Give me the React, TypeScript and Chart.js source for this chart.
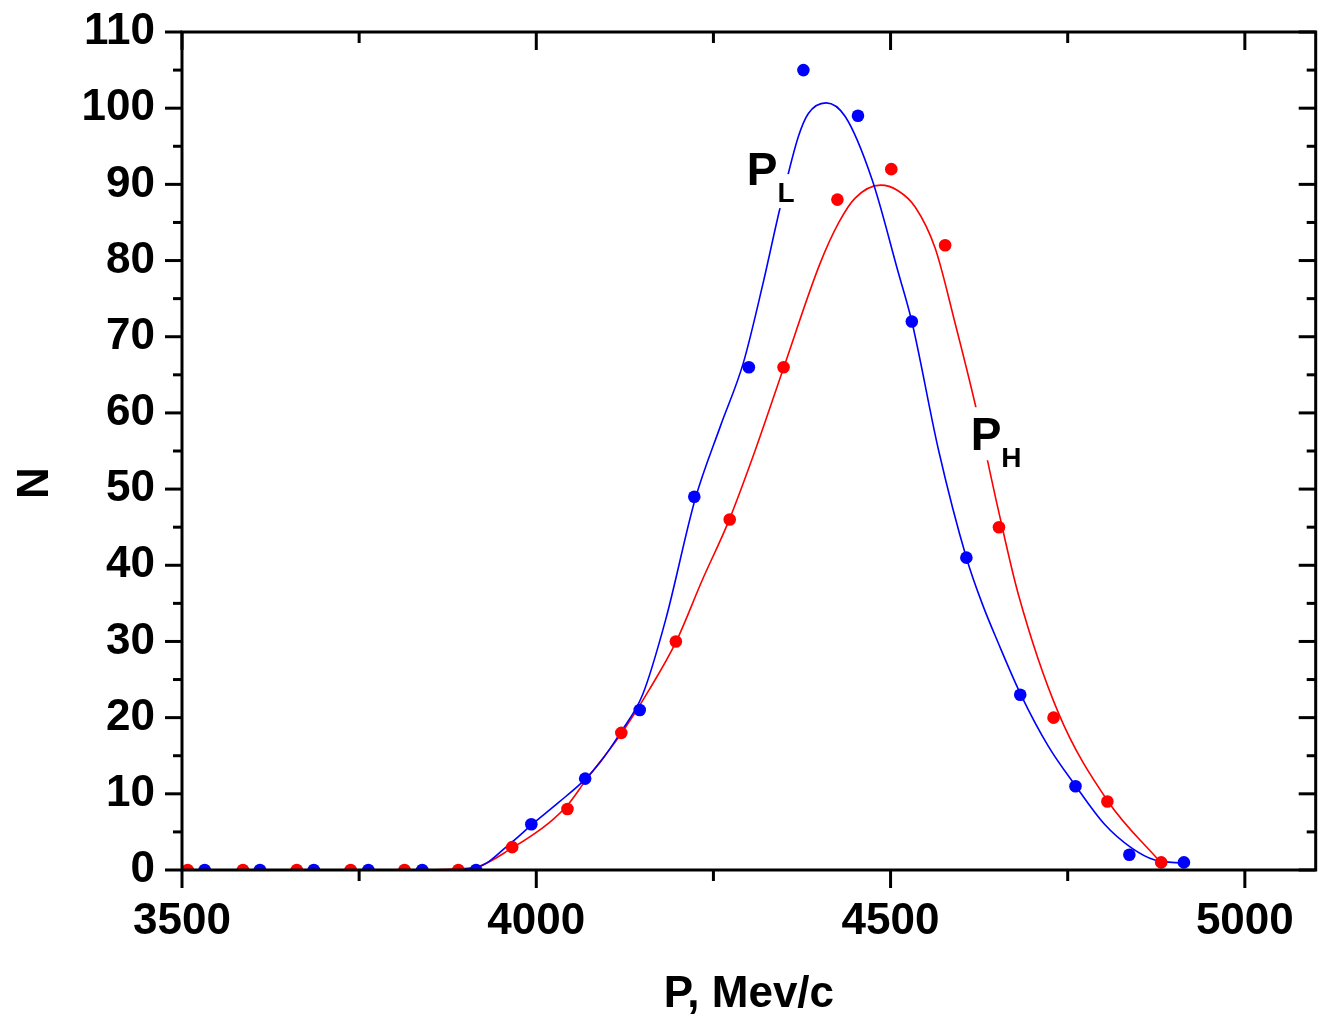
import React, { useEffect, useRef } from 'react';
import { Chart, registerables } from 'chart.js';

Chart.register(...registerables);

// ---- measured points ----
const redP = [3508, 3586, 3662, 3738, 3814, 3890, 3966, 4044, 4120, 4197, 4273, 4349, 4425, 4501, 4577, 4653, 4730, 4806, 4882];
const redN = [0, 0, 0, 0, 0, 0, 3, 8, 18, 30, 46, 66, 88, 92, 82, 45, 20, 9, 1];
const blueP = [3532, 3610, 3686, 3763, 3839, 3915, 3993, 4069, 4146, 4223, 4300, 4377, 4454, 4530, 4607, 4683, 4761, 4837, 4914];
const blueN = [0, 0, 0, 0, 0, 0, 6, 12, 21, 49, 66, 105, 99, 72, 41, 23, 11, 2, 1];

// ---- fitted curves ----
const blueFitP = [3860, 3915, 3966, 3993, 4032, 4070, 4089, 4120, 4150, 4183, 4224, 4260, 4292, 4320, 4344, 4370, 4384, 4409, 4436, 4474, 4511, 4530, 4568, 4607, 4630, 4652, 4684, 4723, 4760, 4802, 4840, 4873, 4915];
const blueFitN = [0, 0.3, 3.7, 5.9, 8.9, 12, 14, 18.2, 23, 33, 48.6, 58.3, 66.5, 77, 86.9, 96.3, 99.3, 100.7, 98.9, 90.6, 78.4, 72, 55, 41, 34.8, 29.8, 23, 16.2, 11.2, 6.0, 2.9, 1.3, 0.9];
const redFitP = [3850, 3915, 3966, 4018, 4044, 4070, 4120, 4159, 4197, 4234, 4272, 4309, 4349, 4400, 4427, 4450, 4486, 4510, 4535, 4563, 4591, 4619, 4652, 4680, 4737, 4807, 4882];
const redFitN = [0, 0.4, 2.9, 6.2, 8.5, 11.8, 17.9, 23.6, 29.9, 38.0, 45.9, 55.1, 65.9, 79.5, 85.0, 88.2, 89.9, 89.2, 87.0, 81.6, 71.8, 61.3, 47.3, 36.3, 20.6, 9.0, 0.9];

// ---- axes ----
const xMin = 3500;
const xMax = 5100;
const yMin = 0;
const yMax = 110;
const xMajorTicks = [3500, 4000, 4500, 5000];
const xMinorTicks = [3750, 4250, 4750];
const yMajorTicks = [0, 10, 20, 30, 40, 50, 60, 70, 80, 90, 100, 110];
const yMinorTicks = [5, 15, 25, 35, 45, 55, 65, 75, 85, 95, 105];

const xTitle = 'P, Mev/c';
const yTitle = 'N';

// curve labels: main letter, subscript, anchor in data coords
const curveLabelMain = ['P', 'P'];
const curveLabelSub = ['L', 'H'];
const curveLabelP = [4297, 4613];
const curveLabelN = [89.9, 55.1];

const FONT = '"Liberation Sans", Arial, sans-serif';
const BLUE = '#0000ff';
const RED = '#ff0000';

const toXY = (xs: number[], ys: number[]) => xs.map((x, i) => ({ x, y: ys[i] }));

const framePlugin = {
  id: 'frameTicks',
  afterDraw(chart: any) {
    const { ctx, chartArea } = chart;
    const { left, right, top, bottom } = chartArea;
    const xs = chart.scales.x;
    const ys = chart.scales.y;
    ctx.save();
    ctx.strokeStyle = '#000';
    ctx.lineWidth = 3;
    ctx.lineCap = 'butt';
    ctx.beginPath();
    ctx.rect(left, top, right - left, bottom - top);
    ctx.stroke();
    const line = (x1: number, y1: number, x2: number, y2: number) => {
      ctx.beginPath();
      ctx.moveTo(x1, y1);
      ctx.lineTo(x2, y2);
      ctx.stroke();
    };
    xMajorTicks.forEach((v) => {
      const px = xs.getPixelForValue(v);
      line(px, bottom, px, bottom + 18);
      line(px, top, px, top + 18);
    });
    xMinorTicks.forEach((v) => {
      const px = xs.getPixelForValue(v);
      line(px, bottom, px, bottom + 11);
      line(px, top, px, top + 11);
    });
    yMajorTicks.forEach((v) => {
      const py = ys.getPixelForValue(v);
      line(left - 17, py, left, py);
      line(right - 17, py, right, py);
    });
    yMinorTicks.forEach((v) => {
      const py = ys.getPixelForValue(v);
      line(left - 9, py, left, py);
      line(right - 9, py, right, py);
    });
    // y title
    ctx.fillStyle = '#000';
    ctx.font = `bold 44px ${FONT}`;
    ctx.textAlign = 'center';
    ctx.textBaseline = 'middle';
    ctx.translate(36, (top + bottom) / 2 + 32);
    ctx.rotate(-Math.PI / 2);
    ctx.fillText(yTitle, 0, 0);
    ctx.restore();
  },
};

const labelPlugin = {
  id: 'curveLabels',
  afterDatasetsDraw(chart: any) {
    const { ctx } = chart;
    const xs = chart.scales.x;
    const ys = chart.scales.y;
    ctx.save();
    ctx.textAlign = 'left';
    ctx.textBaseline = 'alphabetic';
    curveLabelMain.forEach((m, i) => {
      const bx = xs.getPixelForValue(curveLabelP[i]);
      const by = ys.getPixelForValue(curveLabelN[i]);
      ctx.font = `bold 46px ${FONT}`;
      const w = ctx.measureText(m).width;
      const sx = bx + w;
      const sy = by + 17;
      ctx.font = `bold 28px ${FONT}`;
      const sw = ctx.measureText(curveLabelSub[i]).width;
      ctx.fillStyle = '#fff';
      ctx.fillRect(bx - 8, by - 43, w + 14, 53);
      ctx.fillRect(sx - 6, sy - 28, sw + 12, 34);
      ctx.fillStyle = '#000';
      ctx.font = `bold 46px ${FONT}`;
      ctx.fillText(m, bx, by);
      ctx.font = `bold 28px ${FONT}`;
      ctx.fillText(curveLabelSub[i], sx, sy);
    });
    ctx.restore();
  },
};

export default function App() {
  const canvasRef = useRef<HTMLCanvasElement | null>(null);

  useEffect(() => {
    const canvas = canvasRef.current;
    if (!canvas) return;
    const chart = new Chart(canvas, {
      type: 'scatter',
      data: {
        datasets: [
          {
            label: 'fit L',
            data: toXY(blueFitP, blueFitN),
            showLine: true,
            borderColor: BLUE,
            borderWidth: 1.6,
            pointRadius: 0,
            cubicInterpolationMode: 'monotone',
            order: 3,
          } as any,
          {
            label: 'fit H',
            data: toXY(redFitP, redFitN),
            showLine: true,
            borderColor: RED,
            borderWidth: 1.6,
            pointRadius: 0,
            cubicInterpolationMode: 'monotone',
            order: 4,
          } as any,
          {
            label: 'H',
            data: toXY(redP, redN),
            showLine: false,
            pointRadius: 6.3,
            pointBackgroundColor: RED,
            pointBorderWidth: 0,
            borderColor: RED,
            order: 2,
          },
          {
            label: 'L',
            data: toXY(blueP, blueN),
            showLine: false,
            pointRadius: 6.3,
            pointBackgroundColor: BLUE,
            pointBorderWidth: 0,
            borderColor: BLUE,
            order: 1,
          },
        ],
      },
      options: {
        animation: false,
        responsive: false,
        maintainAspectRatio: false,
        layout: { padding: { top: 32, right: 5, left: 0, bottom: 0 } },
        plugins: {
          legend: { display: false },
          tooltip: { enabled: false },
        },
        scales: {
          x: {
            type: 'linear',
            min: xMin,
            max: xMax,
            grid: { display: false, drawTicks: false },
            border: { display: false },
            afterFit: (scale: any) => {
              scale.height = 152;
              scale.paddingLeft = 0;
              scale.paddingRight = 0;
              scale.paddingTop = 0;
              scale.paddingBottom = 0;
            },
            afterBuildTicks: (scale: any) => {
              scale.ticks = xMajorTicks.map((v) => ({ value: v }));
            },
            ticks: {
              padding: 25,
              color: '#000',
              font: { family: FONT, size: 44, weight: 'bold' },
              maxRotation: 0,
              autoSkip: false,
              callback: (v: any) => String(v),
            },
            title: {
              display: true,
              text: xTitle,
              color: '#000',
              font: { family: FONT, size: 44, weight: 'bold' },
              padding: { top: 0, bottom: 1 },
            },
          },
          y: {
            type: 'linear',
            min: yMin,
            max: yMax,
            grid: { display: false, drawTicks: false },
            border: { display: false },
            afterFit: (scale: any) => {
              scale.width = 182;
              scale.paddingLeft = 0;
              scale.paddingRight = 0;
              scale.paddingTop = 0;
              scale.paddingBottom = 0;
            },
            afterBuildTicks: (scale: any) => {
              scale.ticks = yMajorTicks.map((v) => ({ value: v }));
            },
            ticks: {
              padding: 27,
              color: '#000',
              font: { family: FONT, size: 44, weight: 'bold' },
              autoSkip: false,
              callback: (v: any) => String(v),
            },
          },
        },
      } as any,
      plugins: [labelPlugin, framePlugin],
    });
    return () => chart.destroy();
  }, []);

  return (
    <div style={{ position: 'fixed', left: 0, top: 0, width: 1322, height: 1022, background: '#fff' }}>
      <canvas ref={canvasRef} width={1322} height={1022} style={{ display: 'block' }} />
    </div>
  );
}
